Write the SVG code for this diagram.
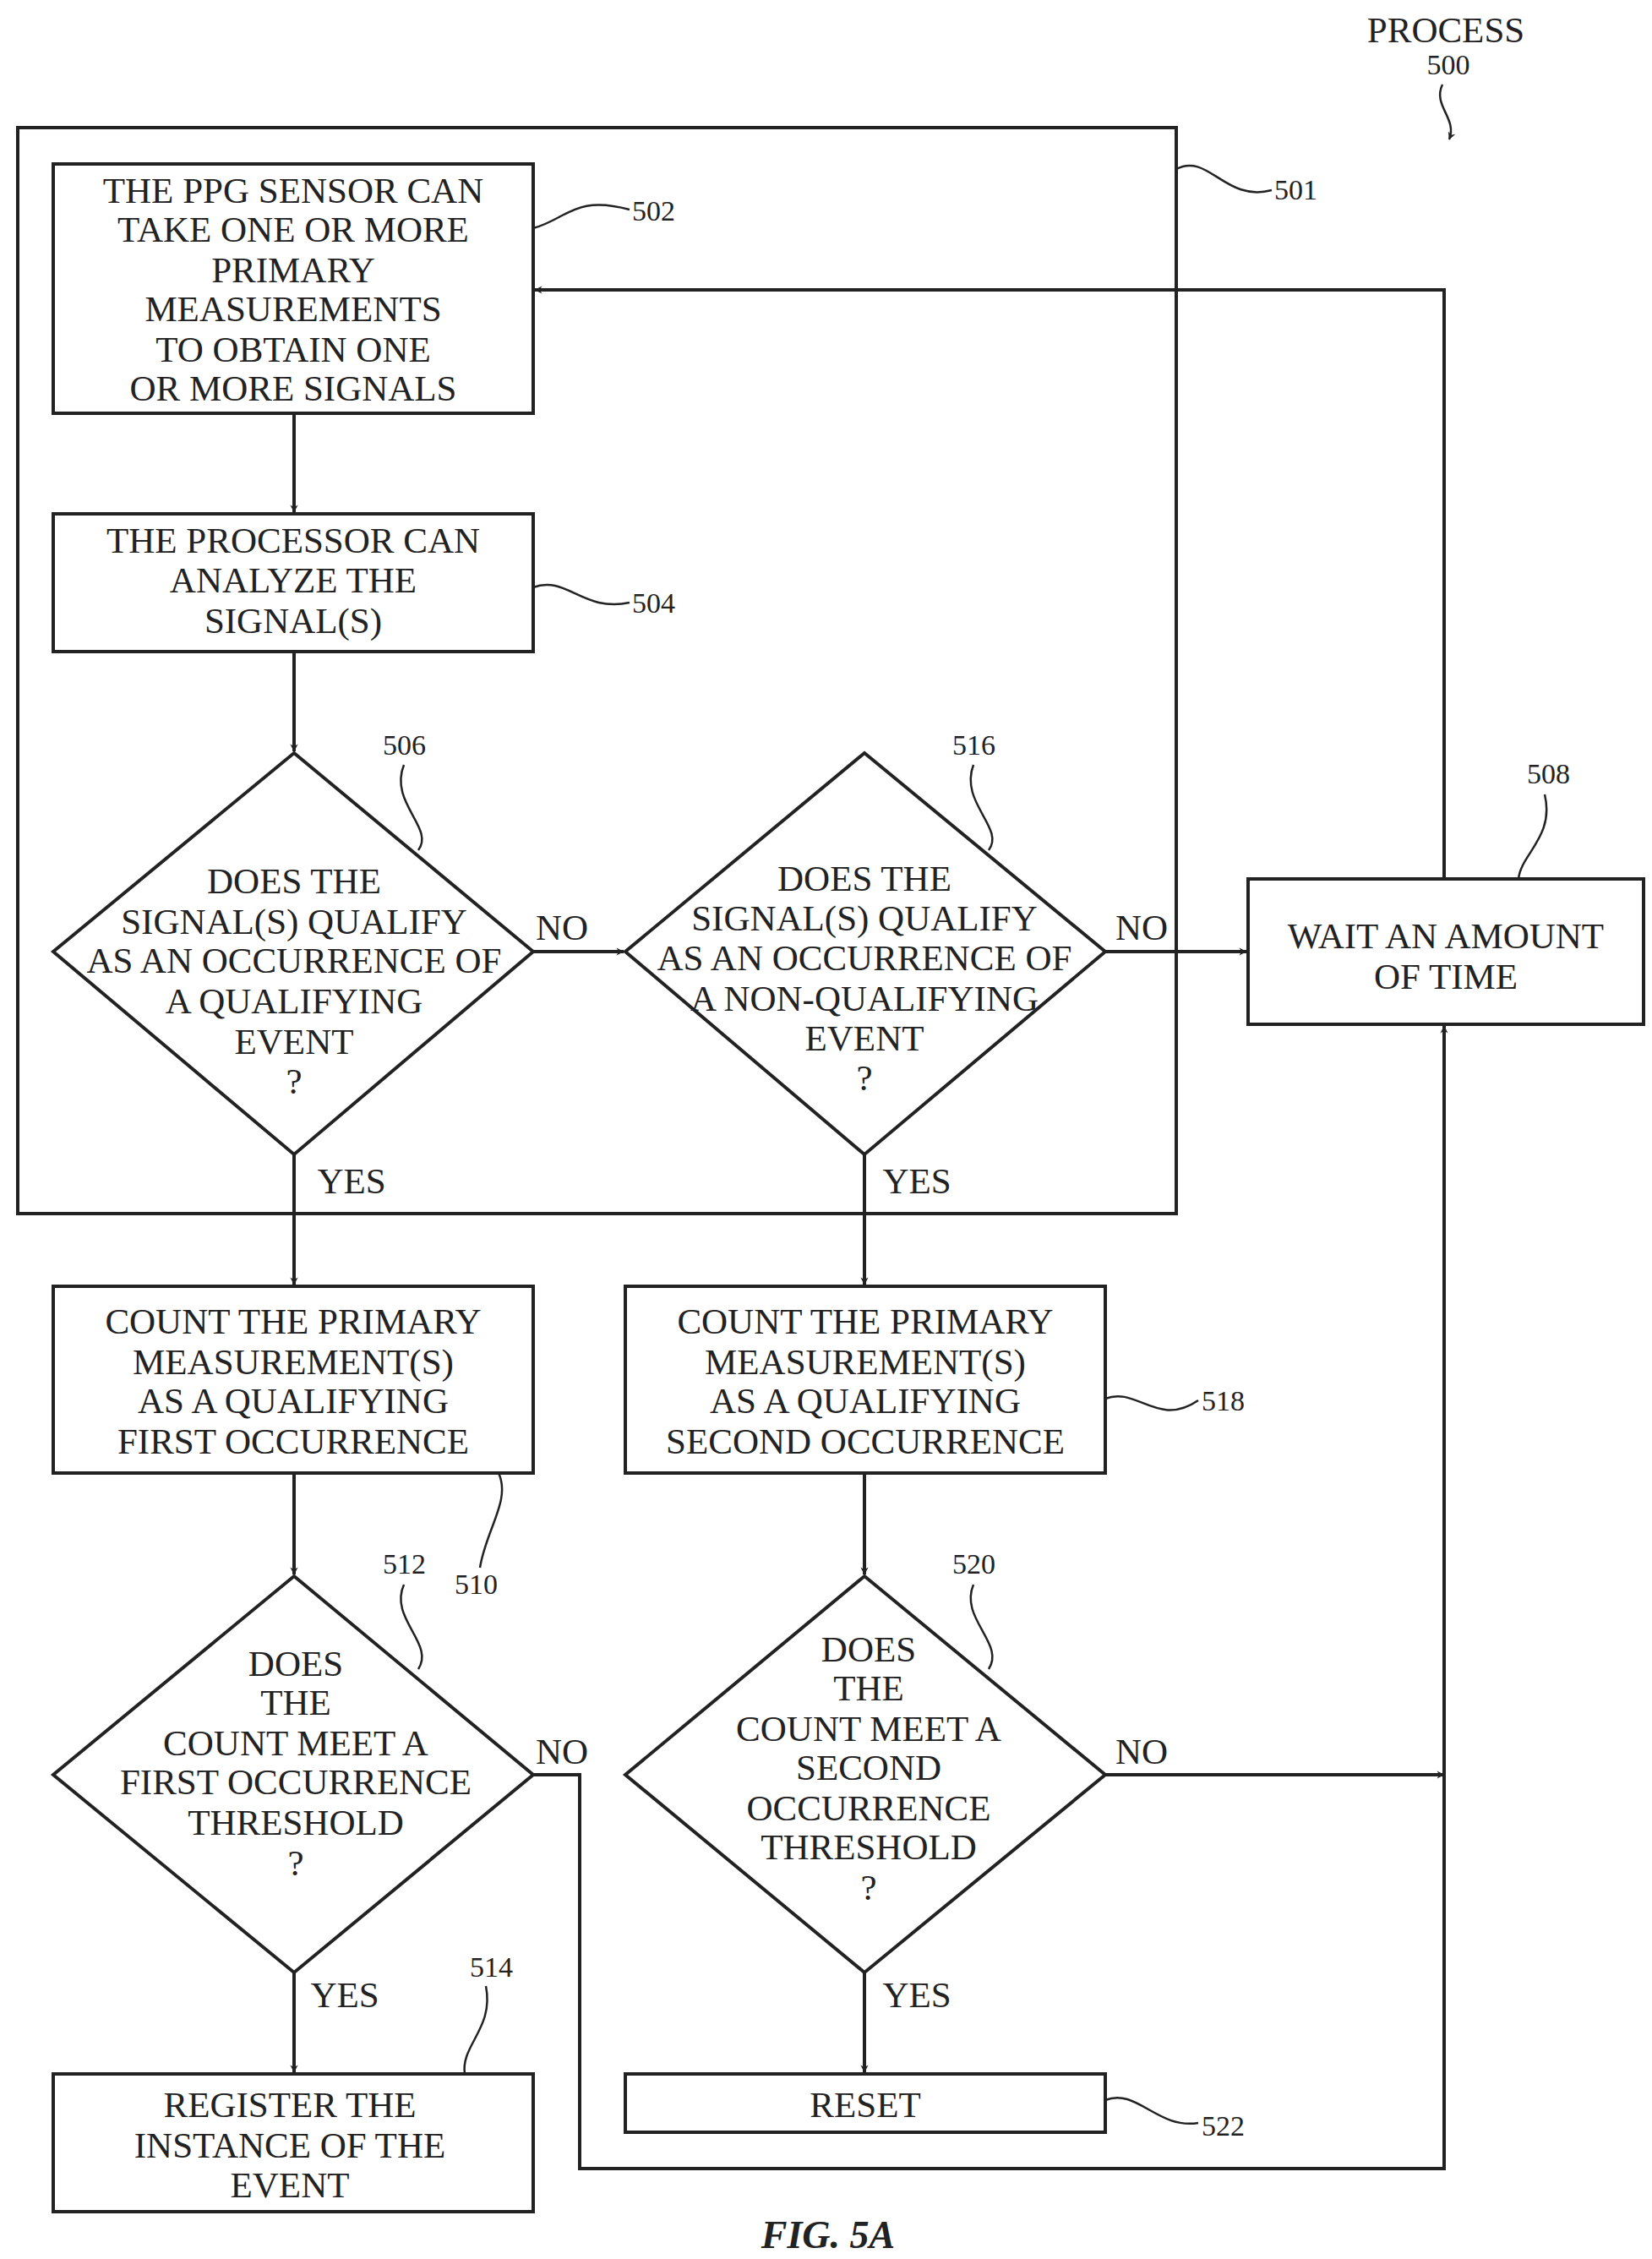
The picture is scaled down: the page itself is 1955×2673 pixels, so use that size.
<svg xmlns="http://www.w3.org/2000/svg" width="1955" height="2673" viewBox="0 0 1955 2673">
<style>
.s{fill:none;stroke:#222;stroke-width:4}
.n{fill:#fff;stroke:#222;stroke-width:4}
text{font-family:"Liberation Serif","Times New Roman",serif;font-size:43px;fill:#222;text-anchor:middle}
.r{font-size:34px;text-anchor:start}
.c{stroke:#222;stroke-width:4;fill:none;marker-end:url(#a)}
.l{fill:none;stroke:#222;stroke-width:2.5}
</style>
<defs><marker id="a" viewBox="0 0 20 20" refX="19" refY="10" markerWidth="7" markerHeight="7" markerUnits="userSpaceOnUse" orient="auto" style="overflow:visible"><path d="M0,0 L20,10 L0,20 L6,10 Z" fill="#222" transform="scale(1.3) translate(-4,-2.3)"/></marker></defs>
<rect width="1955" height="2673" fill="#fff"/>
<g id="b501"><rect x="21" y="151" width="1371" height="1285" class="s"/></g>
<g id="connectors">
<path class="c" d="M348,489 V606"/>
<path class="c" d="M348,771 V889"/>
<path class="c" d="M631,1126 H738"/>
<path class="c" d="M1308,1126 H1475"/>
<path class="c" d="M1709,1040 V343 H633"/>
<path class="c" d="M348,1366 V1520"/>
<path class="c" d="M1023,1366 V1520"/>
<path class="c" d="M348,1743 V1863"/>
<path class="c" d="M1023,1743 V1863"/>
<path class="c" d="M348,2334 V2452"/>
<path class="c" d="M1023,2334 V2452"/>
<path class="c" d="M1308,2100 H1709"/>
<path class="c" d="M631,2100 H686 V2566 H1709 V1214"/>
</g>
<g id="n502"><rect x="63" y="194" width="568" height="295" class="n"/>
<text x="347" y="240">THE PPG SENSOR CAN</text><text x="347" y="286">TAKE ONE OR MORE</text><text x="347" y="334">PRIMARY</text><text x="347" y="380">MEASUREMENTS</text><text x="347" y="428">TO OBTAIN ONE</text><text x="347" y="474">OR MORE SIGNALS</text></g>
<g id="n504"><rect x="63" y="608" width="568" height="163" class="n"/>
<text x="347" y="654">THE PROCESSOR CAN</text><text x="347" y="701">ANALYZE THE</text><text x="347" y="749">SIGNAL(S)</text></g>
<g id="n506"><path d="M348,891 L631,1126 L348,1366 L63,1126 Z" class="n"/>
<text x="348" y="1057">DOES THE</text><text x="348" y="1105">SIGNAL(S) QUALIFY</text><text x="348" y="1151">AS AN OCCURRENCE OF</text><text x="348" y="1199">A QUALIFYING</text><text x="348" y="1247">EVENT</text><text x="348" y="1294">?</text></g>
<g id="n516"><path d="M1023,891 L1308,1126 L1023,1366 L740,1126 Z" class="n"/>
<text x="1023" y="1054">DOES THE</text><text x="1023" y="1101">SIGNAL(S) QUALIFY</text><text x="1023" y="1148">AS AN OCCURRENCE OF</text><text x="1023" y="1196">A NON-QUALIFYING</text><text x="1023" y="1243">EVENT</text><text x="1023" y="1290">?</text></g>
<g id="n508"><rect x="1477" y="1040" width="468" height="172" class="n"/>
<text x="1711" y="1122">WAIT AN AMOUNT</text><text x="1711" y="1170">OF TIME</text></g>
<g id="n510"><rect x="63" y="1522" width="568" height="221" class="n"/>
<text x="347" y="1578">COUNT THE PRIMARY</text><text x="347" y="1626">MEASUREMENT(S)</text><text x="347" y="1672">AS A QUALIFYING</text><text x="347" y="1720">FIRST OCCURRENCE</text></g>
<g id="n518"><rect x="740" y="1522" width="568" height="221" class="n"/>
<text x="1024" y="1578">COUNT THE PRIMARY</text><text x="1024" y="1626">MEASUREMENT(S)</text><text x="1024" y="1672">AS A QUALIFYING</text><text x="1024" y="1720">SECOND OCCURRENCE</text></g>
<g id="n512"><path d="M348,1865 L631,2100 L348,2334 L63,2100 Z" class="n"/>
<text x="350" y="1983">DOES</text><text x="350" y="2029">THE</text><text x="350" y="2077">COUNT MEET A</text><text x="350" y="2123">FIRST OCCURRENCE</text><text x="350" y="2171">THRESHOLD</text><text x="350" y="2219">?</text></g>
<g id="n520"><path d="M1023,1865 L1308,2100 L1023,2334 L740,2100 Z" class="n"/>
<text x="1028" y="1966">DOES</text><text x="1028" y="2012">THE</text><text x="1028" y="2060">COUNT MEET A</text><text x="1028" y="2106">SECOND</text><text x="1028" y="2154">OCCURRENCE</text><text x="1028" y="2200">THRESHOLD</text><text x="1028" y="2248">?</text></g>
<g id="n514"><rect x="63" y="2454" width="568" height="163" class="n"/>
<text x="343" y="2505">REGISTER THE</text><text x="343" y="2553">INSTANCE OF THE</text><text x="343" y="2600">EVENT</text></g>
<g id="n522"><rect x="740" y="2454" width="568" height="69" class="n"/>
<text x="1024" y="2505">RESET</text></g>
<g id="labels">
<text x="665" y="1112">NO</text><text x="1351" y="1112">NO</text><text x="665" y="2087">NO</text><text x="1351" y="2087">NO</text>
<text x="416" y="1412">YES</text><text x="1085" y="1412">YES</text><text x="408" y="2375">YES</text><text x="1085" y="2375">YES</text>
<text x="1711" y="50">PROCESS</text><text x="1714" y="88" style="font-size:34px">500</text>
<path class="l" d="M1707,100 C1695,125 1725,140 1715,165" marker-end="url(#a)"/>
<text class="r" x="1508" y="236">501</text><path class="l" d="M1392,200 C1430,180 1450,240 1505,225"/>
<text class="r" x="748" y="261">502</text><path class="l" d="M631,270 C670,260 680,230 745,248"/>
<text class="r" x="748" y="725">504</text><path class="l" d="M631,695 C670,680 690,725 745,713"/>
<text class="r" x="453" y="893">506</text><path class="l" d="M495,1006 C515,980 460,950 478,905"/>
<text class="r" x="1127" y="893">516</text><path class="l" d="M1170,1006 C1190,980 1135,950 1152,905"/>
<text class="r" x="1807" y="927">508</text><path class="l" d="M1797,1040 C1800,1010 1840,990 1828,940"/>
<text class="r" x="1422" y="1669">518</text><path class="l" d="M1308,1655 C1345,1640 1370,1690 1418,1657"/>
<text class="r" x="538" y="1886">510</text><path class="l" d="M590,1743 C605,1775 575,1810 568,1855"/>
<text class="r" x="453" y="1862">512</text><path class="l" d="M495,1975 C515,1945 460,1915 478,1875"/>
<text class="r" x="1127" y="1862">520</text><path class="l" d="M1170,1975 C1190,1945 1135,1915 1152,1875"/>
<text class="r" x="556" y="2339">514</text><path class="l" d="M550,2454 C545,2420 585,2400 575,2350"/>
<text class="r" x="1422" y="2527">522</text><path class="l" d="M1308,2485 C1345,2470 1370,2520 1418,2512"/>
<text x="980" y="2660" style="font-weight:bold;font-style:italic;font-size:46px">FIG. 5A</text>
</g>
</svg>
